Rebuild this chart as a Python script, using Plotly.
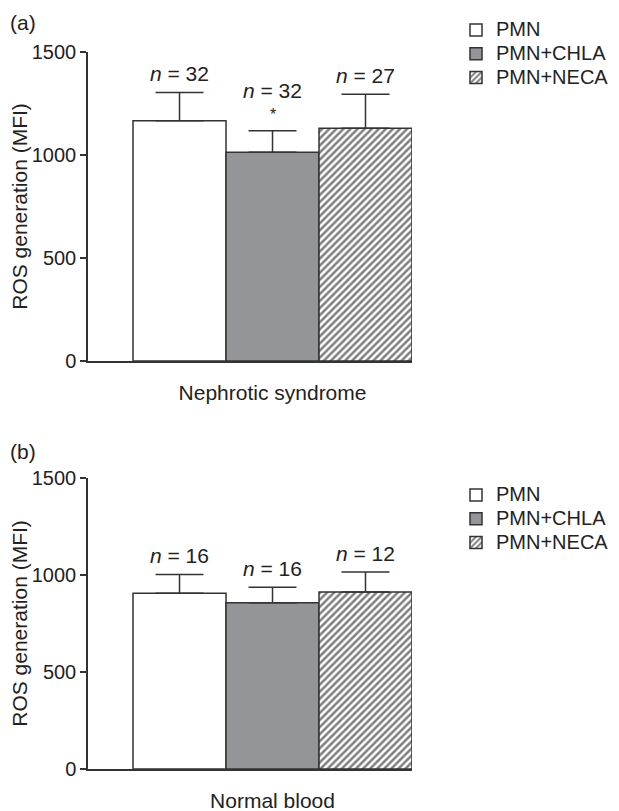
import plotly.graph_objects as go

# ---- data ----
treatments = ["PMN", "PMN+CHLA", "PMN+NECA"]

nephrotic_mean = [1166, 1013, 1130]
nephrotic_sem = [138, 105, 165]
nephrotic_n = [32, 32, 27]
nephrotic_sig = ["", "*", ""]

normal_mean = [906, 857, 912]
normal_sem = [97, 80, 103]
normal_n = [16, 16, 12]
normal_sig = ["", "", ""]

panel_labels = ["(a)", "(b)"]
group_labels = ["Nephrotic syndrome", "Normal blood"]
y_ticks = [0, 500, 1000, 1500]

# ---- styles / geometry (page has an 8px body margin; coordinates below are figure px) ----
W, H = 619, 811
FONT = "Liberation Sans, Arial, Helvetica, sans-serif"
FS = 21
TFS = 20
LFS = 20
TXT = "#222222"
LINE = "#333333"
fills = ["#ffffff", "#949598", "#ffffff"]
patterns = ["", "", "/"]

fig = go.Figure()

panels = [
    (nephrotic_mean, nephrotic_sem, nephrotic_n, nephrotic_sig, "x", "y", "legend"),
    (normal_mean, normal_sem, normal_n, normal_sig, "x2", "y2", "legend2"),
]

annotations = []
for p, (means, sems, ns, sigs, xa, ya, lg) in enumerate(panels):
    for i, name in enumerate(treatments):
        fig.add_trace(go.Bar(
            x=[i], y=[means[i]], width=1,
            name=f'<span style="font-size:{LFS}px">{name}</span>',
            xaxis=xa, yaxis=ya, legend=lg,
            marker=dict(color=fills[i],
                        line=dict(color=LINE, width=1.5),
                        pattern=dict(shape=patterns[i], fgcolor="#000000",
                                     bgcolor="#ffffff", size=5, solidity=0.5)),
            error_y=dict(type="data", symmetric=False, array=[sems[i]],
                         arrayminus=[0], color=LINE, thickness=1.5, width=24),
        ))
        top = means[i] + sems[i]
        shift = 19
        if sigs[i]:
            annotations.append(dict(x=i, y=top, xref=xa, yref=ya, text=sigs[i],
                                    showarrow=False, yanchor="middle", yshift=16,
                                    font=dict(family=FONT, size=16, color=TXT)))
            shift = 40
        annotations.append(dict(x=i, y=top, xref=xa, yref=ya,
                                text=f"<i>n</i> = {ns[i]}",
                                showarrow=False, yanchor="middle", yshift=shift,
                                font=dict(family=FONT, size=FS, color=TXT)))

# panel letters
annotations.append(dict(x=0, y=1-14/H, xref="paper", yref="paper", text=panel_labels[0],
                        showarrow=False, xanchor="left", yanchor="middle",
                        font=dict(family=FONT, size=FS, color=TXT)))
annotations.append(dict(x=0, y=1-443/H, xref="paper", yref="paper", text=panel_labels[1],
                        showarrow=False, xanchor="left", yanchor="middle",
                        font=dict(family=FONT, size=FS, color=TXT)))

xdom = [80/W, 404/W]
xcommon = dict(domain=xdom, range=[-0.984, 2.5], showline=True, linecolor=LINE, linewidth=1.5,
               ticks="", tickvals=[1], showgrid=False, zeroline=False,
               tickfont=dict(family=FONT, size=FS, color=TXT), ticklabelstandoff=12)
ycommon = dict(range=[0, 1500], tickvals=y_ticks, showline=True, linecolor=LINE, linewidth=1.5,
               ticks="outside", ticklen=6, tickwidth=1.5, tickcolor=LINE, showgrid=False,
               zeroline=False, tickfont=dict(family=FONT, size=TFS, color=TXT),
               title=dict(text="ROS generation (MFI)", standoff=6,
                          font=dict(family=FONT, size=FS, color=TXT)))

legcommon = dict(x=448/W, xanchor="left", yanchor="top", bgcolor="rgba(0,0,0,0)",
                 font=dict(family=FONT, size=16, color=TXT), tracegroupgap=0,
                 traceorder="normal")

fig.update_layout(
    width=W, height=H,
    margin=dict(l=0, r=0, t=0, b=0, autoexpand=False),
    paper_bgcolor="white", plot_bgcolor="white",
    barmode="overlay",
    xaxis=dict(**xcommon, ticktext=[group_labels[0]], anchor="y"),
    yaxis=dict(**ycommon, domain=[1-353/H, 1-44/H], anchor="x"),
    xaxis2=dict(**xcommon, ticktext=[group_labels[1]], anchor="y2"),
    yaxis2=dict(**ycommon, domain=[1-761/H, 1-470/H], anchor="x2"),
    legend=dict(**legcommon, y=1-5/H),
    legend2=dict(**legcommon, y=1-470/H),
    annotations=annotations,
    font=dict(family=FONT, size=FS, color=TXT),
)

fig.write_html("out.html")
